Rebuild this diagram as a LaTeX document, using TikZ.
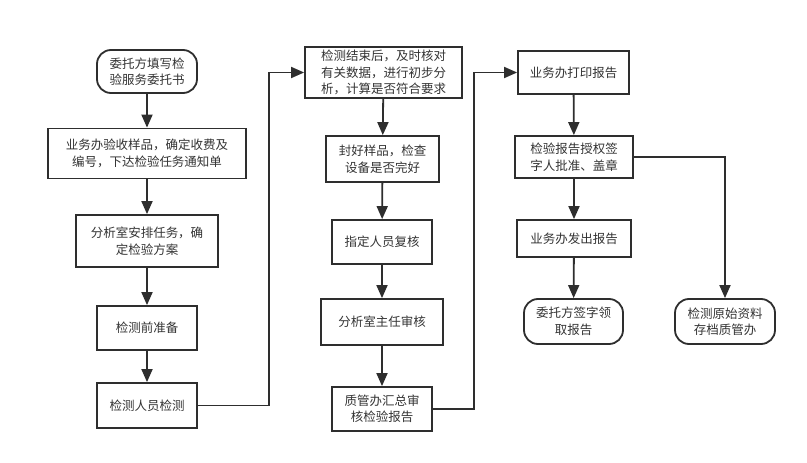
\documentclass[tikz,border=0pt]{standalone}
\usepackage{fontspec}
\setmainfont{Noto Sans CJK SC}
\usepackage{xcolor}
\usetikzlibrary{arrows.meta}
\definecolor{inkgray}{HTML}{2E2E2E}
\definecolor{txtgray}{HTML}{333333}

\begin{document}
\begin{tikzpicture}[x=1pt,y=-1pt,
  box/.style={draw=inkgray,line width=1.8pt,inner sep=0pt,align=center,
    text=txtgray,font=\fontsize{12.5pt}{16.5pt}\selectfont},
  term/.style={box,rounded corners=14pt},
  flow/.style={draw=inkgray,line width=1.8pt,-{Triangle[length=13pt,width=11pt]}}]
\useasboundingbox (0,0) rectangle (807,463);
% first column
\node[term,minimum width=100pt,minimum height=43pt] (wt) at (147,71.5) {委托方填写检\\验服务委托书};
\node[box,minimum width=198pt,minimum height=50pt] (ys) at (147,153.5) {业务办验收样品，确定收费及\\编号，下达检验任务通知单};
\node[box,minimum width=142pt,minimum height=52pt] (ap) at (147,241) {分析室安排任务，确\\定检验方案};
\node[box,minimum width=100pt,minimum height=44pt] (zb) at (147,328) {检测前准备};
\node[box,minimum width=100pt,minimum height=45pt] (jc) at (147,405.5) {检测人员检测};
% second column
\node[box,minimum width=157pt,minimum height=51pt] (hd) at (383.5,72.5) {检测结束后，及时核对\\有关数据，进行初步分\\析，计算是否符合要求};
\node[box,minimum width=113pt,minimum height=46pt] (fh) at (382.5,159) {封好样品，检查\\设备是否完好};
\node[box,minimum width=100pt,minimum height=44pt] (fu) at (382,242) {指定人员复核};
\node[box,minimum width=122pt,minimum height=46pt] (sh) at (382,322) {分析室主任审核};
\node[box,minimum width=100pt,minimum height=44pt] (hz) at (382,409) {质管办汇总审\\核检验报告};
% third column
\node[box,minimum width=111pt,minimum height=43pt] (dy) at (573.5,72.5) {业务办打印报告};
\node[box,minimum width=118pt,minimum height=42pt] (pz) at (574,157) {检验报告授权签\\字人批准、盖章};
\node[box,minimum width=114pt,minimum height=37pt] (fc) at (574,238.5) {业务办发出报告};
\node[term,minimum width=99pt,minimum height=45pt] (lq) at (573.5,321.5) {委托方签字领\\取报告};
\node[term,minimum width=100pt,minimum height=45pt] (cd) at (725,321.5) {检测原始资料\\存档质管办};
\coordinate (k1) at (269,405.5);
\coordinate (k2) at (474,409);
% connectors
\draw[flow] (wt) -- (ys);
\draw[flow] (ys) -- (ap);
\draw[flow] (ap) -- (zb);
\draw[flow] (zb) -- (jc);
\draw[flow] (jc.east) -- (k1) |- (hd.west);
\draw[flow] (hd) -- (fh);
\draw[flow] (fh) -- (fu);
\draw[flow] (fu) -- (sh);
\draw[flow] (sh) -- (hz);
\draw[flow] (hz.east) -- (k2) |- (dy.west);
\draw[flow] (dy) -- (pz);
\draw[flow] (pz) -- (fc);
\draw[flow] (fc) -- (lq);
\draw[flow] (pz.east) -| (cd.north);
\end{tikzpicture}
\end{document}
